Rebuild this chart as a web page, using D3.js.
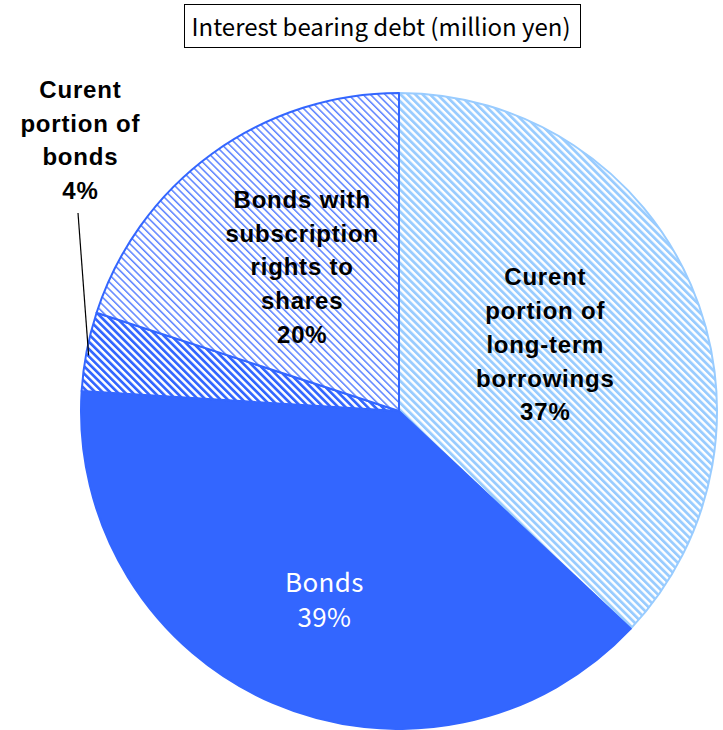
<!DOCTYPE html>
<html>
<head>
<meta charset="utf-8">
<script src="https://cdn.jsdelivr.net/npm/d3@7/dist/d3.min.js"></script>
<style>
  html, body { margin: 0; padding: 0; background: #fff; }
  svg { display: block; }
</style>
</head>
<body>
<div id="chart"></div>
<script>
// Interest bearing debt breakdown (share of total, %)
const categories = [
  "Curent portion of long-term borrowings",
  "Bonds",
  "Curent portion of bonds",
  "Bonds with subscription rights to shares"
];
const values = [37, 39, 4, 20];
const labelLines = [
  ["Curent", "portion of", "long-term", "borrowings"],
  ["Bonds"],
  ["Curent", "portion of", "bonds"],
  ["Bonds with", "subscription", "rights to", "shares"]
];
const title = "Interest bearing debt (million yen)";

const W = 723, H = 730;
const cx = 399, cy = 411, R = 318;

const svg = d3.select("#chart").append("svg")
  .attr("width", W).attr("height", H);

// Hatch fills, one per slice style
const defs = svg.append("defs");
function hatch(id, color, period, stroke) {
  const p = defs.append("pattern")
    .attr("id", id)
    .attr("patternUnits", "userSpaceOnUse")
    .attr("width", period).attr("height", period)
    .attr("patternTransform", "rotate(-45)");
  p.append("rect").attr("width", period).attr("height", period).attr("fill", "#fff");
  p.append("rect").attr("x", 0).attr("y", 0)
    .attr("width", stroke).attr("height", period).attr("fill", color);
}
hatch("hatchLight", "#99ccff", 5.2, 2.8);
hatch("hatchBlue", "#3366ff", 5.2, 2.7);
hatch("hatchThin", "#5b82ff", 5.2, 1.5);

const fills = ["url(#hatchLight)", "#3366ff", "url(#hatchBlue)", "url(#hatchThin)"];
const strokes = ["#99ccff", "#3366ff", "#3366ff", "#3366ff"];

const pie = d3.pie().sort(null).value(d => d)(values);
const arc = d3.arc().innerRadius(0).outerRadius(R);

const g = svg.append("g").attr("transform", `translate(${cx},${cy})`);
g.selectAll("path.slice")
  .data(pie)
  .join("path")
  .attr("class", "slice")
  .attr("d", arc)
  .attr("fill", (d, i) => fills[i])
  .attr("stroke", (d, i) => strokes[i])
  .attr("stroke-width", 2)
  .attr("stroke-linejoin", "round");

const boldFont = "'Liberation Sans', Arial, sans-serif";
const lineH = 33.7;

function drawLabel(lines, pct, x, yFirst, opts) {
  const t = svg.append("text")
    .attr("text-anchor", "middle")
    .attr("font-family", opts.family)
    .attr("font-size", opts.size)
    .attr("font-weight", opts.weight)
    .attr("letter-spacing", opts.spacing)
    .attr("fill", opts.color);
  lines.concat([pct + "%"]).forEach((s, k) => {
    t.append("tspan")
      .attr("x", x + opts.spacing / 2)
      .attr("y", yFirst + k * opts.lh)
      .text(s);
  });
}

const boldOpts = { family: boldFont, size: 24, weight: "bold", spacing: 0.8, color: "#000", lh: lineH };

// Label positions derived from each slice's angle
function polar(d, frac) {
  const a = (d.startAngle + d.endAngle) / 2;
  return [cx + Math.sin(a) * R * frac, cy - Math.cos(a) * R * frac];
}

// Long-term borrowings
{
  const [x, y] = polar(pie[0], 0.5);
  drawLabel(labelLines[0], values[0], x, y - 2 * lineH + 5, boldOpts);
}
// Bonds
{
  const [x, y] = polar(pie[1], 0.6);
  drawLabel(labelLines[1], values[1], x + 1, y + 6, {
    family: "'Noto Sans CJK JP', sans-serif", size: 26, weight: "normal",
    spacing: 0.3, color: "#fff", lh: 35
  });
}
// Subscription rights
{
  const [x, y] = polar(pie[3], 0.52);
  drawLabel(labelLines[3], values[3], x, y - 2 * lineH - 2, boldOpts);
}
// Current portion of bonds: outside with leader
{
  const d = pie[2];
  const a = (d.startAngle + d.endAngle) / 2;
  const edge = [cx + Math.sin(a) * R, cy - Math.cos(a) * R];
  drawLabel(labelLines[2], values[2], 80, 98, boldOpts);
  svg.append("line")
    .attr("x1", 78).attr("y1", 213)
    .attr("x2", edge[0] + 2).attr("y2", edge[1] + 4)
    .attr("stroke", "#000").attr("stroke-width", 1.2);
}

// Title in a box
const tg = svg.append("g");
tg.append("rect")
  .attr("x", 184.5).attr("y", 4.5)
  .attr("width", 396).attr("height", 43)
  .attr("fill", "#fff").attr("stroke", "#000").attr("stroke-width", 1);
tg.append("text")
  .attr("x", 381).attr("y", 36)
  .attr("text-anchor", "middle")
  .attr("font-family", "'Noto Sans CJK JP', sans-serif")
  .attr("font-size", 24)
  .attr("fill", "#000")
  .text(title);
</script>
</body>
</html>
